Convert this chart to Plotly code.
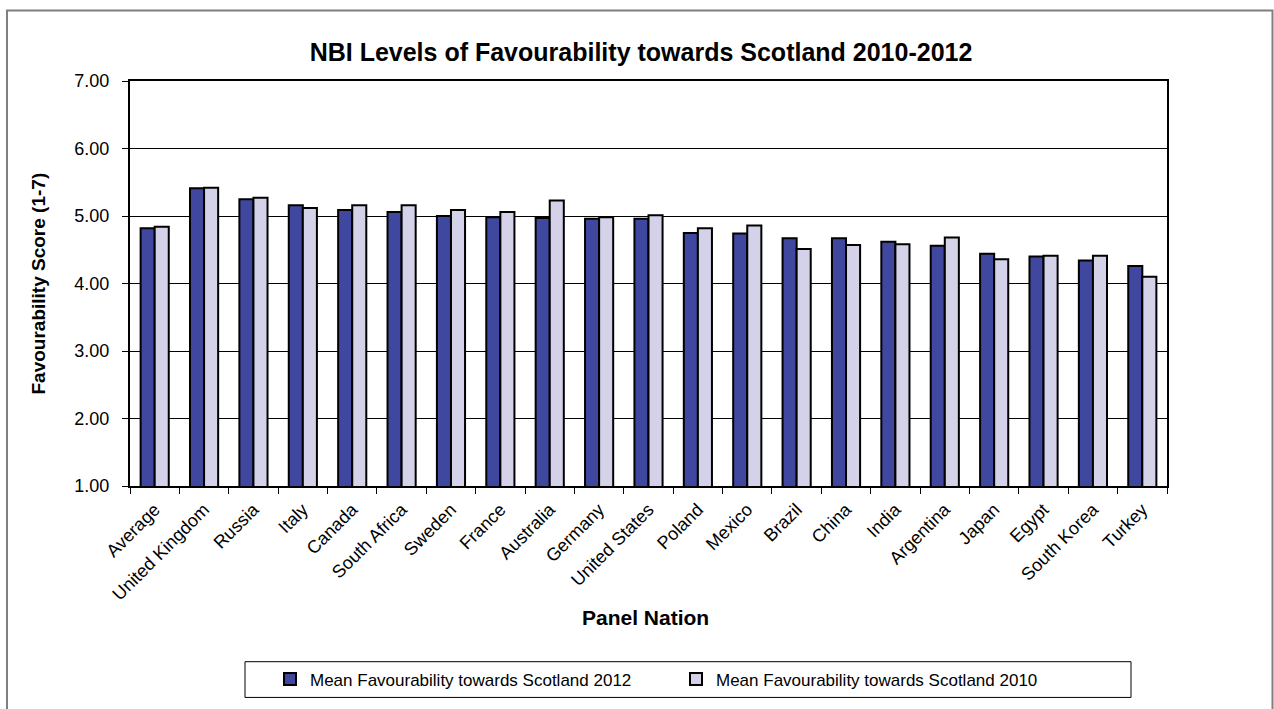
import plotly.graph_objects as go

categories = ["Average", "United Kingdom", "Russia", "Italy", "Canada", "South Africa",
              "Sweden", "France", "Australia", "Germany", "United States", "Poland",
              "Mexico", "Brazil", "China", "India", "Argentina", "Japan", "Egypt",
              "South Korea", "Turkey"]
fav_2012 = [4.82, 5.41, 5.25, 5.16, 5.09, 5.06, 5.00, 4.98, 4.97, 4.96, 4.96, 4.75,
            4.74, 4.67, 4.67, 4.62, 4.56, 4.44, 4.40, 4.34, 4.26]
fav_2010 = [4.84, 5.42, 5.27, 5.12, 5.16, 5.16, 5.09, 5.06, 5.23, 4.98, 5.01, 4.82,
            4.86, 4.51, 4.57, 4.58, 4.68, 4.36, 4.41, 4.41, 4.10]
y_ticks = [1, 2, 3, 4, 5, 6, 7]

FONT = "Liberation Sans, Arial, sans-serif"
W, H = 1274, 709
L, R, T, B = 130, 1167, 81, 489
pw, ph = R - L, B - T

def px(x):
    return (x - L) / pw

def py(y):
    return (B - y) / ph

fig = go.Figure()
fig.add_trace(go.Bar(x=categories, y=fav_2012, name="Mean Favourability towards Scotland 2012",
                     marker=dict(color="#3F489E", line=dict(color="#000000", width=2))))
fig.add_trace(go.Bar(x=categories, y=fav_2010, name="Mean Favourability towards Scotland 2010",
                     marker=dict(color="#D3D2E9", line=dict(color="#000000", width=2))))

fig.update_layout(
    width=W, height=H,
    margin=dict(l=L, r=W - R, t=T, b=H - B, pad=0),
    paper_bgcolor="white", plot_bgcolor="white",
    font=dict(family=FONT, size=17, color="black"),
    barmode="group", bargap=0.43, bargroupgap=0,
    title=dict(text="<b>NBI Levels of Favourability towards Scotland 2010-2012</b>",
               x=641 / W, xanchor="center", y=1 - 52 / H, yanchor="middle",
               font=dict(family=FONT, size=25, color="black")),
    showlegend=True,
    legend=dict(orientation="h", x=px(270), xanchor="left", y=py(684), yanchor="middle",
                bgcolor="rgba(0,0,0,0)", borderwidth=0, entrywidth=361,
                font=dict(family=FONT, size=17, color="black")),
    xaxis=dict(showline=True, linecolor="black", linewidth=2, mirror=True,
               ticks="outside", ticklen=6, tickcolor="black", tickwidth=1,
               tickson="boundaries", tickangle=-45, showgrid=False,
               ticklabelstandoff=4,
               tickfont=dict(family=FONT, size=18, color="black")),
    yaxis=dict(range=[1, 7], tickvals=y_ticks, tickformat=".2f",
               showline=True, linecolor="black", linewidth=2, mirror=True,
               ticks="outside", ticklen=6, tickcolor="black", tickwidth=1,
               ticklabelstandoff=9,
               showgrid=True, gridcolor="black", gridwidth=1, zeroline=False,
               tickfont=dict(family=FONT, size=18, color="black")),
    annotations=[
        dict(text="<b>Favourability Score (1-7)</b>", xref="paper", yref="paper",
             x=px(38), y=py(285), xanchor="center", yanchor="middle", textangle=-90,
             showarrow=False, font=dict(family=FONT, size=19, color="black")),
        dict(text="<b>Panel Nation</b>", xref="paper", yref="paper",
             x=px(645), y=py(621), xanchor="center", yanchor="middle",
             showarrow=False, font=dict(family=FONT, size=21, color="black")),
    ],
    shapes=[
        dict(type="rect", xref="paper", yref="paper", x0=px(7), x1=px(1272.5),
             y0=py(720), y1=py(10), line=dict(color="#7F7F7F", width=2),
             fillcolor="rgba(0,0,0,0)", layer="below"),
        dict(type="rect", xref="paper", yref="paper", x0=px(245), x1=px(1131),
             y0=py(702), y1=py(666), line=dict(color="black", width=1),
             fillcolor="rgba(0,0,0,0)"),
    ],
)

fig.write_html("out.html", config={"displayModeBar": False},
               post_script="document.body.style.margin='0px';")
